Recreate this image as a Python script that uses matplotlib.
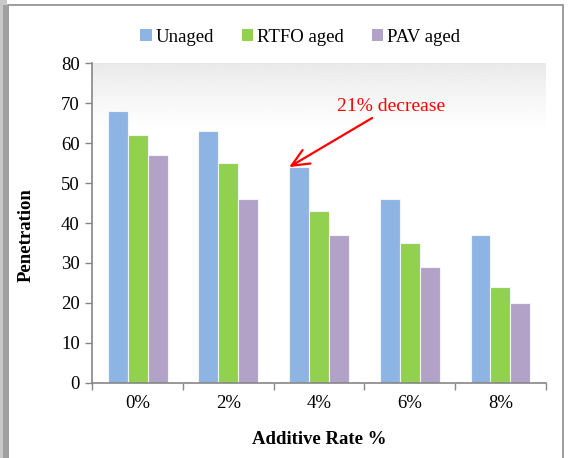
import matplotlib.pyplot as plt
import numpy as np
from matplotlib.patches import Rectangle, Patch

categories = ['0%', '2%', '4%', '6%', '8%']
unaged = [68, 63, 54, 46, 37]
rtfo_aged = [62, 55, 43, 35, 24]
pav_aged = [57, 46, 37, 29, 20]

series = [('Unaged', unaged, '#8EB4E3'),
          ('RTFO aged', rtfo_aged, '#92D050'),
          ('PAV aged', pav_aged, '#B3A2C7')]

plt.rcParams['font.family'] = ['Liberation Serif', 'DejaVu Serif']

fig = plt.figure(figsize=(5.69, 4.58), dpi=100)

# outer chart frame with a soft shadow on the left/top
fig.patches.append(Rectangle((0.0, -0.05), 0.012, 1.05, transform=fig.transFigure,
                             facecolor='#c8c8c8', edgecolor='none', zorder=0))
fig.patches.append(Rectangle((0.006, -0.05), 0.006, 1.04, transform=fig.transFigure,
                             facecolor='#a0a0a0', edgecolor='none', zorder=0))
fig.patches.append(Rectangle((0.014, -0.05), 0.975, 1.04, transform=fig.transFigure,
                             facecolor='white', edgecolor='#8c8c8c', linewidth=1.2, zorder=1))

ax = fig.add_axes([0.1622, 0.1644, 0.797, 0.6974])
ax.set_zorder(2)
ax.patch.set_alpha(0)

x = np.arange(len(categories))
w = 0.22
for i, (name, vals, col) in enumerate(series):
    ax.bar(x + (i - 1) * w, vals, w, color=col, edgecolor='#f4f4f4',
           linewidth=0.8, label=name, zorder=3)

ax.set_xlim(-0.5, len(categories) - 0.5)
ax.set_ylim(0, 80)

# light grey gradient at the top of the plot area, fading to white
t = np.linspace(0, 1, 256)[:, None]
shade = np.clip(1 - t * 4.5, 0, 1) ** 1.3
ax.imshow(1 - shade * 0.085, cmap='gray', vmin=0, vmax=1, aspect='auto',
          extent=[-0.5, len(categories) - 0.5, 0, 80], origin='upper', zorder=0)

ax.set_yticks(range(0, 81, 10))
ax.set_xticks(x)
ax.set_xticklabels(categories)
ax.set_xticks(np.arange(-0.5, len(categories), 1), minor=True)
ax.tick_params(axis='x', which='major', length=0, pad=9, labelsize=13.5)
ax.tick_params(axis='x', which='minor', length=5, color='#868686', width=1)
ax.tick_params(axis='y', length=5, color='#868686', width=1, labelsize=13.5, pad=4)

for s in ['top', 'right']:
    ax.spines[s].set_visible(False)
for s in ['left', 'bottom']:
    ax.spines[s].set_color('#868686')
    ax.spines[s].set_linewidth(1.2)
    ax.spines[s].set_zorder(4)

fig.text(319 / 569, 1 - 439 / 458, 'Additive Rate %', ha='center', va='center',
         fontsize=13.5, fontweight='bold')
fig.text(26 / 569, 1 - 235 / 458, 'Penetration', ha='center', va='center',
         rotation=90, fontsize=13.5, fontweight='bold')

ax.annotate('21% decrease', xy=(1.67, 54), xytext=(2.20, 67.0),
            color='red', fontsize=14, ha='left', va='bottom',
            arrowprops=dict(arrowstyle='->,head_length=0.9,head_width=0.4',
                            color='red', lw=1.6, shrinkA=0, shrinkB=0),
            zorder=5)

handles = [Patch(facecolor=c, edgecolor='none', label=n) for n, _, c in series]
fig.legend(handles=handles, loc='center', bbox_to_anchor=(300 / 569, 1 - 37 / 458),
           ncol=3, frameon=False, fontsize=13.5, handlelength=0.6, handleheight=0.6,
           handletextpad=0.2, columnspacing=1.5)

fig.savefig('out.png', dpi=100)
